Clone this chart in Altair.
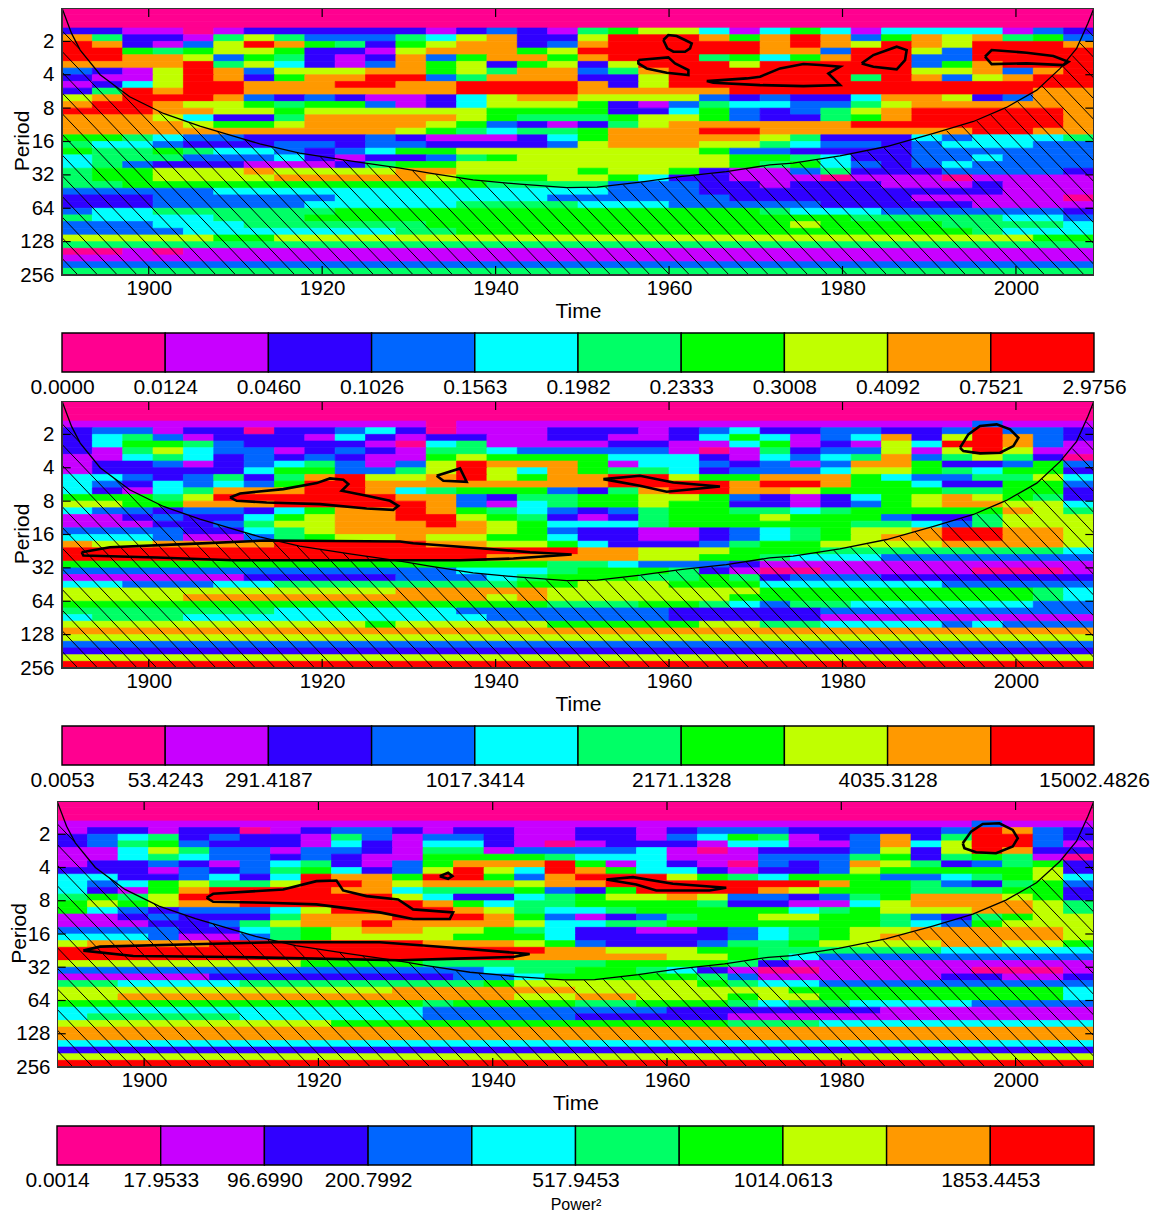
import altair as alt
import numpy as np
import pandas as pd

alt.data_transformers.disable_max_rows()

COLORS = ["#ff0090", "#c800ff", "#3000ff", "#0066ff", "#00ffff", "#00ff66", "#00ff00", "#c0ff00", "#ff9900", "#ff0000"]
LEVELS = list(range(10))

# Contour level per cell: 34 columns (3.5 years) x 40 rows (1/5 octave of period)
P1 = [
    "0" * 34, "0" * 34, "0" * 34,
    "22110122222 212321567741 46414444132",
    "85221575333 547822799986 89836878563",
    "98213798652 678823899999 89879879998",
    "99656776221 788867999999 88399739999",
    "99887365212 836886899956 46899339999",
    "88889574213 867267279997 99999368999",
    "32179837778 867588358999 99999778389",
    "21179826889 935888227999 99959837899",
    "12479988899 889999827999 99999999999",
    "25989988888 889999888889 99999999988",
    "78999832321 124788777732 32248872388",
    "89987765663 124777621354 43357888888",
    "99988776777 777666622463 23578999998",
    "88874225888 887655567763 22568999998",
    "88887667888 876321257888 88899999998",
    "88888888888 765455688899 88888889988",
    "66543322223 211124688888 75222434445",
    "54432223323 322223788877 54332344433",
    "65565443234 667777777763 32222333333",
    "45553334212 235677777776 65422334333",
    "45322211125 667777777776 56432343333",
    "56677787777 887777677621 13522233332",
    "56677778888 876667764221 11011101111",
    "55666666666 666555533322 12221112111",
    "33333444444 444444433322 22222222111",
    "22233333344 444443333332 22222111110",
    "22233333444 445555444333 33222221111",
    "34455555566 666666666666 54443333332",
    "54444555666 666666666666 66655555443",
    "33344455555 566666666666 67666655554",
    "33334444444 556666666666 66666665444",
    "77777667777 777777777777 77777777766",
    "5" * 34,
    "00101111111" + "1" * 23,
    "1" * 34,
    "3" * 34,
    "5" * 34,
]
P2 = [
    "0" * 34, "0" * 34, "0" * 34,
    "11111111111 101111111111 11111113111",
    "23312202234 201112221234 22332239332",
    "24531222142 122112211246 41348279832",
    "24665322221 045111122114 61217499831",
    "21574331232 155433333101 52337179711",
    "11454232321 167666644421 43458357520",
    "12231234531 379888614432 31388622363",
    "12222246633 579748655423 33477654662",
    "44323525897 789768899766 88864335574",
    "43243436998 888888899998 99866422663",
    "42145888998 456663258998 87666655662",
    "66657999999 883255667763 21246787652",
    "77668889999 983145667662 21236788774",
    "43323324688 986543235665 54566666875",
    "11232246788 997652125666 76663225777",
    "11122357788 898764445666 66655435777",
    "33332245788 888763221123 45677899887",
    "44431135677 877664221123 45678899887",
    "87788889999 988776422235 66777788887",
    "99999999999 999999887776 66555555554",
    "99999999999 999888887766 54443333333",
    "66666666666 666665543332 11111111111",
    "33333333333 334445666521 00111110001",
    "11111122222 333456665565 23332222222",
    "44333445555 555566777666 44444433333",
    "77777777777 888887777777 66666666654",
    "77778888888 888787777776 66666666654",
    "66666666666 666665556654 35544444433",
    "55555554444 443333333222 22333333333",
    "45554444444 444333333222 22111111111",
    "77777777776 777776666677 55444434333",
    "8" * 34,
    "7" * 34,
    "3" * 34,
    "2" * 34,
    "7" * 34,
    "9" * 34,
]
P3 = [
    "0" * 34, "0" * 34, "0" * 34,
    "11111111111 111111111111 11111113111",
    "12212201233 212211221233 32222239832",
    "23452322153 133211221346 51238259932",
    "23563222142 144210122214 41138479931",
    "11475331332 155133334101 22237279822",
    "11454332321 166665444111 33356256510",
    "12232134521 368889614210 32387523562",
    "22213235642 379749864421 22376666672",
    "44223424988 699638999765 46663345674",
    "43467557998 788878899999 99866532563",
    "42168999988 455563269999 87666555662",
    "56579999999 742245677873 32356888762",
    "67678899999 986455666652 21147888875",
    "64323334799 998754456666 64567778875",
    "11232225888 999863123566 77665325677",
    "11122357889 888874455666 66665436777",
    "33332245678 877654221123 45677888887",
    "44431135677 776664222223 45678888887",
    "78888999999 988876322235 56777788776",
    "99999999999 999998877766 55555544444",
    "99999999999 999988888776 54333333333",
    "77777777666 655555566665 21111111111",
    "33333333333 333455665421 00111110001",
    "11111222222 223346666653 11111122112",
    "55444455555 555677777765 44333333333",
    "77777777777 888888777777 76666666664",
    "77888888888 888877887776 77666666664",
    "66666666666 656666556665 45544443333",
    "44444444444 433333333222 22221111111",
    "45555544444 433333222221 11111111111",
    "77777777766 666666666665 55444444444",
    "8" * 34,
    "8" * 34,
    "4" * 34,
    "2" * 34,
    "7" * 34,
    "9" * 34,
]

# Cone of influence: year and log2(period)
COI_YEAR = [1890, 1891.1, 1892.1, 1894.4, 1897.8, 1901.7, 1905.9, 1909, 1912.8, 1917.4, 1923.2, 1929, 1932.4, 1937.4,
            1942.8, 1948.2, 1951.7, 1956.7, 1961.3, 1966.6, 1971.6, 1974.3, 1979.7, 1985.1, 1990.5, 1995.1, 1998.9,
            2002.4, 2005.1, 2007, 2008.3, 2009]
COI_OCT = [0, .76, 1.26, 2.0, 2.66, 3.16, 3.54, 3.78, 4.07, 4.35, 4.58, 4.8, 4.95, 5.15, 5.28, 5.38, 5.37, 5.22, 5.05,
           4.9, 4.7, 4.65, 4.43, 4.15, 3.76, 3.4, 2.98, 2.46, 1.81, 1.21, .46, 0]

# Significance contours: (years, log2 period)
C1 = [
    ([1959.34, 1959.92, 1960.88, 1961.84, 1962.61, 1962.42, 1961.84, 1960.5, 1959.8],
     [.96, .81, .84, .96, 1.06, 1.21, 1.31, 1.31, 1.21]),
    ([1956.46, 1959.92, 1960.69, 1962.23, 1962.23, 1959.73, 1957.42, 1956.46],
     [1.56, 1.48, 1.66, 1.86, 2.01, 1.94, 1.81, 1.66]),
    ([1964.34, 1968.95, 1970.49, 1972.8, 1975.49, 1977.41, 1979.72, 1978.37, 1979.72, 1975.49, 1970.49, 1965.1],
     [2.19, 2.11, 2.06, 1.81, 1.68, 1.71, 1.76, 1.96, 2.31, 2.34, 2.31, 2.24]),
    ([1982.21, 1983.56, 1986.25, 1987.4, 1987.21, 1986.25, 1983.56],
     [1.66, 1.41, 1.16, 1.26, 1.56, 1.84, 1.76]),
    ([1996.43, 1997.2, 2001.24, 2004.31, 2006.05, 2005.47, 2001.24, 1997.2],
     [1.46, 1.26, 1.34, 1.44, 1.61, 1.71, 1.66, 1.68]),
]
C2 = [
    ([1909.37, 1910.53, 1915.52, 1919.37, 1920.9, 1922.44, 1923.02, 1922.25, 1925.13, 1927.82, 1928.78, 1928.2, 1925.13,
      1919.75, 1913.6, 1910.14],
     [2.89, 2.77, 2.64, 2.46, 2.32, 2.36, 2.49, 2.69, 2.84, 2.99, 3.14, 3.26, 3.22, 3.09, 3.04, 2.99]),
    ([1892.27, 1895.53, 1904.76, 1913.6, 1928.97, 1930.5, 1938.2, 1943.97, 1948.77, 1942.05, 1935.9, 1926.67, 1909.76,
      1900.92, 1892.46],
     [4.53, 4.38, 4.28, 4.18, 4.21, 4.26, 4.41, 4.53, 4.6, 4.72, 4.77, 4.77, 4.77, 4.69, 4.63]),
    ([1933.2, 1935.9, 1936.66, 1933.97], [2.24, 2.02, 2.42, 2.39]),
    ([1952.42, 1956.65, 1960.5, 1965.87, 1959.73, 1956.65], [2.34, 2.24, 2.44, 2.56, 2.72, 2.54]),
    ([1993.55, 1994.51, 1995.86, 1997.78, 1999.32, 2000.28, 1999.7, 1998.17, 1995.86, 1993.94],
     [1.4, 1.0, .75, .7, .85, 1.1, 1.35, 1.55, 1.57, 1.5]),
]
C3 = [
    ([1907.16, 1907.92, 1915.95, 1919.77, 1922.07, 1922.83, 1925.51, 1929.14, 1930.86, 1935.45, 1935.07, 1930.86,
      1927.04, 1919.77, 1914.04, 1907.92],
     [2.91, 2.79, 2.66, 2.41, 2.39, 2.69, 2.86, 2.96, 3.26, 3.35, 3.55, 3.55, 3.35, 3.11, 3.06, 3.03]),
    ([1893.02, 1894.93, 1906.78, 1915.19, 1927.04, 1934.69, 1944.24, 1942.33, 1935.83, 1929.33, 1910.22, 1898.75],
     [4.5, 4.38, 4.3, 4.25, 4.25, 4.4, 4.6, 4.69, 4.74, 4.79, 4.69, 4.66]),
    ([1933.92, 1934.88, 1935.37, 1934.88], [2.26, 2.16, 2.26, 2.34]),
    ([1953.03, 1956.09, 1960.68, 1966.8, 1964.88, 1958.77, 1956.47], [2.36, 2.29, 2.49, 2.61, 2.69, 2.69, 2.51]),
    ([1993.94, 1994.89, 1996.23, 1998.14, 1999.67, 2000.25, 1999.67, 1997.76, 1995.47, 1994.13],
     [1.27, .92, .69, .67, .87, 1.12, 1.37, 1.57, 1.54, 1.42]),
]

BAR1 = ["0.0000", "0.0124", "0.0460", "0.1026", "0.1563", "0.1982", "0.2333", "0.3008", "0.4092", "0.7521", "2.9756"]
BAR2 = ["0.0053", "53.4243", "291.4187", "", "1017.3414", "", "2171.1328", "", "4035.3128", "", "15002.4826"]
BAR3 = ["0.0014", "17.9533", "96.6990", "200.7992", "", "517.9453", "", "1014.0613", "", "1853.4453", ""]

X_TICKS = [1900, 1920, 1940, 1960, 1980, 2000]
Y_TICKS = [1, 2, 3, 4, 5, 6, 7, 8]

X0, X1 = 1890, 2009
FONT = "Liberation Sans"


def cells(rows):
    out = []
    for r, raw in enumerate(rows):
        s = raw.replace(" ", "")
        j = 0
        while j < len(s):
            k = j
            while k + 1 < len(s) and s[k + 1] == s[j]:
                k += 1
            out.append(dict(a=X0 + j * 3.5, b=X0 + (k + 1) * 3.5, t=r / 5, u=(r + 1) / 5, level=int(s[j])))
            j = k + 1
    return pd.DataFrame(out)


def hatch():
    yrs = np.linspace(X0, X1, 1191)
    coi = np.interp(yrs, COI_YEAR, COI_OCT)
    out = []
    for n in range(-56, 14):
        y = 0.68 + n * 0.62 + 0.2725 * (yrs - X0)
        inside = (y > coi) & (y <= 8)
        idx = np.where(inside)[0]
        if len(idx) == 0:
            continue
        for seg in np.split(idx, np.where(np.diff(idx) > 1)[0] + 1):
            out.append(dict(a=yrs[seg[0]], b=yrs[seg[-1]], t=y[seg[0]], u=y[seg[-1]]))
    return pd.DataFrame(out)


def ticks():
    out = []
    for x in X_TICKS:
        out.append(dict(a=x, b=x, t=0, u=0.27))
        out.append(dict(a=x, b=x, t=7.73, u=8))
    for y in Y_TICKS[:-1]:
        out.append(dict(a=X0, b=X0 + 1, t=y, u=y))
        out.append(dict(a=X1 - 1, b=X1, t=y, u=y))
    return pd.DataFrame(out)


def contour_df(cs):
    out = []
    for g, (xs, ys) in enumerate(cs):
        for i, (x, y) in enumerate(zip(xs + xs[:1], ys + ys[:1])):
            out.append(dict(g=g, i=i, x=x, y=y))
    return pd.DataFrame(out)


def panel(rows, cs, xr, h, gap, title_x, pad):
    xs = alt.Scale(domain=[X0, X1], range=xr, nice=False, zero=False)
    ys = alt.Scale(domain=[0, 8], range=[0, h], nice=False, zero=False)
    xax = alt.Axis(values=X_TICKS, format="d", ticks=False, tickSize=0, domain=False, grid=False, labelFontSize=20.5,
                   labelPadding=3, labelFlush=False, offset=-gap, title="Time", titleFontSize=21,
                   titleFontWeight="normal", titleBaseline="middle", titleY=36, labelColor="#000", titleColor="#000")
    yax = alt.Axis(values=Y_TICKS, ticks=False, tickSize=0, domain=False, grid=False, labelFontSize=20.5,
                   labelPadding=pad, labelFlush=False, labelExpr="pow(2, datum.value)", title="Period",
                   titleFontSize=21, titleFontWeight="normal", titleX=title_x, titleY=h / 2 - 1,
                   labelColor="#000", titleColor="#000")
    heat = alt.Chart(cells(rows)).mark_rect(strokeWidth=0.7, clip=True).encode(
        x=alt.X("a:Q", scale=xs, axis=xax),
        x2="b:Q",
        y=alt.Y("t:Q", scale=ys, axis=yax),
        y2="u:Q",
        color=alt.Color("level:O", scale=alt.Scale(domain=LEVELS, range=COLORS), legend=None),
        stroke=alt.Stroke("level:O", scale=alt.Scale(domain=LEVELS, range=COLORS), legend=None),
    )
    hat = alt.Chart(hatch()).mark_rule(color="#000", strokeWidth=1, clip=True).encode(
        x=alt.X("a:Q", scale=xs, axis=xax), x2="b:Q", y=alt.Y("t:Q", scale=ys, axis=yax), y2="u:Q")
    tck = alt.Chart(ticks()).mark_rule(color="#000", strokeWidth=1.2, clip=True).encode(
        x=alt.X("a:Q", scale=xs, axis=xax), x2="b:Q", y=alt.Y("t:Q", scale=ys, axis=yax), y2="u:Q")
    coi = alt.Chart(pd.DataFrame(dict(x=COI_YEAR, y=COI_OCT))).mark_line(color="#000", strokeWidth=1.3, clip=True).encode(
        x=alt.X("x:Q", scale=xs, axis=xax), y=alt.Y("y:Q", scale=ys, axis=yax), order="x:Q")
    con = alt.Chart(contour_df(cs)).mark_line(color="#000", strokeWidth=2.6, clip=True).encode(
        x=alt.X("x:Q", scale=xs, axis=xax), y=alt.Y("y:Q", scale=ys, axis=yax),
        detail="g:N", order="i:Q")
    frame = alt.Chart(pd.DataFrame(dict(a=[X0], b=[X1], t=[0], u=[8]))).mark_rect(
        fillOpacity=0, stroke="#333", strokeWidth=2, clip=True).encode(
        x=alt.X("a:Q", scale=xs, axis=xax), x2="b:Q", y=alt.Y("t:Q", scale=ys, axis=yax), y2="u:Q")
    return alt.layer(heat, hat, coi, con, tck, frame).properties(width=1037, height=h + gap)


def bar(labels, xr, gap, title=None):
    df = pd.DataFrame(dict(a=list(range(10)), b=list(range(1, 11)), level=LEVELS))
    arr = "[" + ",".join("'%s'" % s for s in labels) + "]"
    if title:
        kw = dict(title=title, titleFontSize=16, titleFontWeight="normal", titleBaseline="middle", titleY=39,
                  titleColor="#000")
    else:
        kw = dict(title=None)
    ax = alt.Axis(values=list(range(11)), labelExpr=arr + "[datum.value]", ticks=False, tickSize=0, domain=False,
                  grid=False, labelFontSize=21, labelPadding=4, labelFlush=False, labelBound=False,
                  labelOverlap=False, labelColor="#000", offset=-gap, **kw)
    return alt.Chart(df).mark_rect(stroke="#000", strokeWidth=1.4).encode(
        x=alt.X("a:Q", scale=alt.Scale(domain=[0, 10], range=xr, nice=False, zero=False), axis=ax),
        x2="b:Q",
        y=alt.value(0),
        y2=alt.value(39),
        color=alt.Color("level:O", scale=alt.Scale(domain=LEVELS, range=COLORS), legend=None),
    ).properties(width=1037, height=39 + gap)


R1 = [5, 1037]
R3 = [0, 1037]
chart = alt.vconcat(
    panel(P1, C1, R1, 267, 58, -25, 3),
    bar(BAR1, R1, 29),
    panel(P2, C2, R1, 267, 58, -25, 3),
    bar(BAR2, R1, 36),
    panel(P3, C3, R3, 266, 59, -28, 7),
    bar(BAR3, R3, 0, "Power²"),
    spacing=0,
    bounds="flush",
).configure_view(stroke=None).configure_axis(labelFont=FONT, titleFont=FONT).properties(
    padding=0, background="white")

chart.save("out.html", embed_options={"renderer": "svg", "actions": False})
